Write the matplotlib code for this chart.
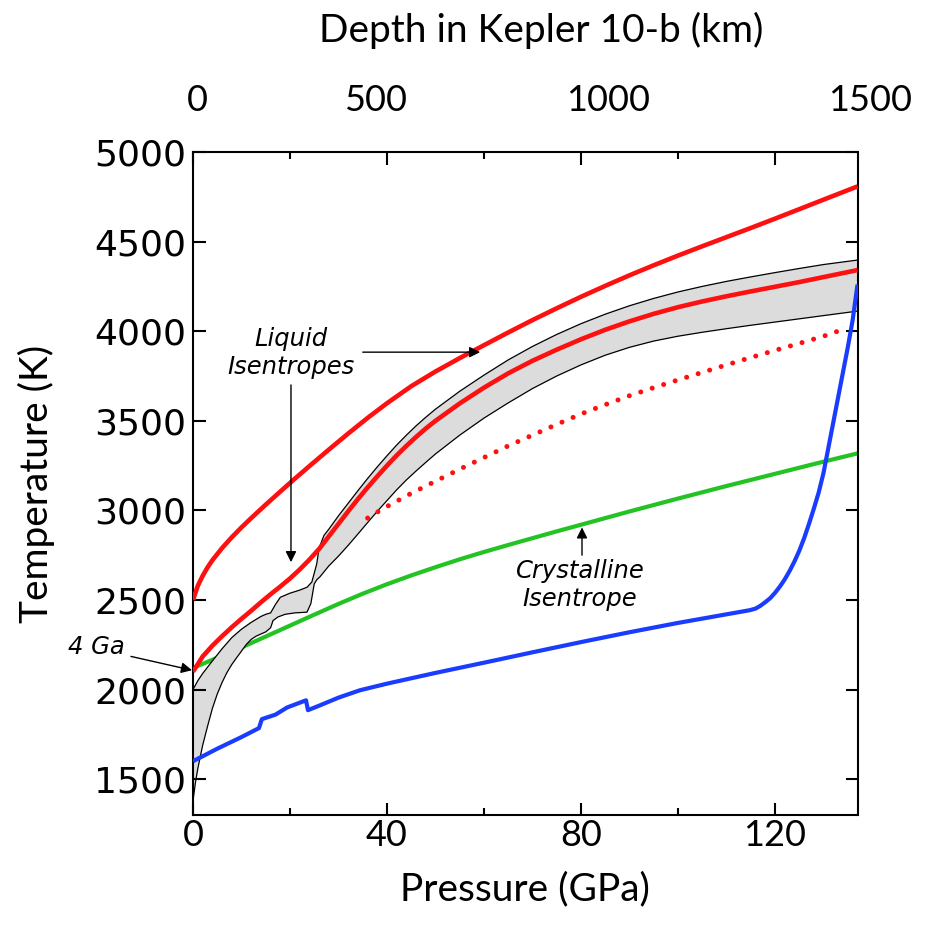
import matplotlib
matplotlib.use("Agg")
import matplotlib.pyplot as plt
from matplotlib.ticker import MultipleLocator

# Upper liquid isentrope (red)
p_liq_hot = [0, 1, 2, 3, 4, 6, 8, 10, 12, 15, 18, 21, 24, 28, 32, 36, 40, 45, 50, 55, 60, 65,
             70, 75, 80, 85, 90, 95, 100, 105, 110, 115, 120, 125, 130, 137]
t_liq_hot = [2500, 2580, 2635, 2682, 2722, 2790, 2850, 2905, 2957, 3032, 3105, 3177, 3247, 3339,
             3429, 3516, 3598, 3693, 3775, 3850, 3922, 3993, 4062, 4128, 4192, 4253, 4312, 4368,
             4422, 4474, 4525, 4576, 4628, 4681, 4734, 4808]

# Lower liquid isentrope (red, inside the grey band)
p_liq_4ga = [0, 2, 4, 6, 8, 10, 12, 14, 16, 18, 20, 22, 24, 26, 28, 30, 32, 34, 36, 38, 40, 42,
             44, 46, 48, 50, 55, 60, 65, 70, 75, 80, 85, 90, 95, 100, 105, 110, 115, 120, 125,
             130, 137]
t_liq_4ga = [2100, 2185, 2245, 2298, 2348, 2395, 2440, 2487, 2532, 2575, 2620, 2670, 2725, 2785,
             2855, 2925, 2995, 3063, 3128, 3190, 3250, 3307, 3360, 3410, 3457, 3500, 3597, 3685,
             3765, 3835, 3897, 3955, 4008, 4055, 4097, 4134, 4166, 4195, 4222, 4248, 4274, 4302,
             4341]

# Grey band: upper bound
p_band_hi = [0, 1, 2, 4, 6, 8, 10, 12, 14, 15, 16, 17, 18, 20, 22, 23.5, 24.5, 25.5, 26, 27, 28,
             30, 32, 34, 36, 38, 40, 42, 44, 46, 48, 50, 55, 60, 65, 70, 75, 80, 85, 90, 95, 100,
             105, 110, 115, 120, 125, 130, 137]
t_band_hi = [2000, 2050, 2090, 2160, 2228, 2290, 2337, 2375, 2408, 2420, 2428, 2475, 2515, 2538,
             2555, 2571, 2600, 2700, 2790, 2860, 2895, 2970, 3040, 3110, 3178, 3243, 3305, 3365,
             3420, 3472, 3520, 3565, 3665, 3755, 3840, 3915, 3982, 4042, 4095, 4142, 4183, 4219,
             4250, 4278, 4303, 4327, 4350, 4372, 4397]

# Grey band: lower bound
p_band_lo = [0, 0.5, 1, 1.5, 2, 3, 4, 5, 6, 7, 8, 9, 10, 11, 12, 13, 14, 15, 16, 16.5, 17.5, 19,
             21, 23.5, 24.3, 25, 25.5, 26.2, 28, 30, 32, 34, 36, 38, 40, 42, 44, 46, 48, 50, 55,
             60, 65, 70, 75, 80, 85, 90, 95, 100, 105, 110, 115, 120, 125, 130, 137]
t_band_lo = [1380, 1480, 1560, 1625, 1690, 1795, 1895, 1975, 2040, 2095, 2140, 2178, 2215, 2252,
             2280, 2298, 2310, 2322, 2345, 2385, 2405, 2420, 2428, 2432, 2480, 2590, 2612, 2630,
             2690, 2745, 2805, 2868, 2932, 2995, 3055, 3115, 3170, 3220, 3268, 3315, 3420, 3515,
             3600, 3680, 3750, 3812, 3866, 3910, 3945, 3972, 3994, 4014, 4033, 4051, 4069, 4087,
             4112]

# Dotted red isentrope
p_dotted = [36, 38, 40, 45, 50, 55, 60, 65, 70, 75, 80, 85, 90, 95, 100, 105, 110, 115, 120, 125,
            130, 134]
t_dotted = [2957, 2990, 3022, 3095, 3163, 3230, 3295, 3360, 3420, 3480, 3538, 3590, 3640, 3685,
            3728, 3770, 3812, 3853, 3893, 3932, 3972, 4010]

# Crystalline isentrope (green)
p_cryst = [0, 5, 10, 15, 20, 25, 30, 35, 40, 45, 50, 55, 60, 65, 70, 75, 80, 85, 90, 95, 100, 105,
           110, 115, 120, 125, 130, 137]
t_cryst = [2120, 2178, 2235, 2296, 2357, 2418, 2478, 2535, 2588, 2637, 2683, 2727, 2768, 2807,
           2845, 2883, 2920, 2957, 2994, 3030, 3066, 3101, 3136, 3170, 3204, 3238, 3272, 3318]

# Solidus (blue)
p_solid = [0, 5, 10, 13.6, 14.2, 17, 19.4, 23.3, 23.7, 26, 30, 34.4, 40, 50, 60, 70, 80, 90, 100,
           110, 114.8, 116, 117, 118, 119, 120, 121, 122, 123, 124, 125, 126, 127, 128, 129, 130,
           131, 132, 133, 134, 135, 136, 137]
t_solid = [1600, 1670, 1735, 1785, 1835, 1860, 1900, 1940, 1885, 1910, 1955, 1996, 2033, 2093,
           2150, 2208, 2265, 2320, 2372, 2420, 2443, 2452, 2468, 2488, 2510, 2540, 2575, 2615,
           2662, 2715, 2775, 2845, 2925, 3010, 3100, 3210, 3350, 3490, 3630, 3770, 3910, 4062,
           4260]

# Depth scale (km) and the pressure where each depth label sits
depth_km = [0, 500, 1000, 1500]
depth_p = [0.8, 37.7, 85.5, 139.5]

W, H = 927, 932
fig = plt.figure(figsize=(W / 100, H / 100), dpi=100)
ax = fig.add_axes([193 / W, 1 - 815 / H, (857.5 - 193) / W, (815 - 152) / H])

ax.fill(p_band_hi + p_band_lo[::-1], t_band_hi + t_band_lo[::-1],
        facecolor="#dcdcdc", edgecolor="none", zorder=1)
ax.plot(p_cryst, t_cryst, color="#22c322", lw=3.0, zorder=0.9, solid_capstyle="butt")
ax.plot(p_band_hi, t_band_hi, color="black", lw=0.9, zorder=2)
ax.plot(p_band_lo, t_band_lo, color="black", lw=0.9, zorder=2)
ax.plot(p_liq_hot, t_liq_hot, color="#ff1010", lw=3.3, zorder=3, solid_capstyle="butt")
ax.plot(p_liq_4ga, t_liq_4ga, color="#ff1010", lw=3.3, zorder=3, solid_capstyle="butt")
ax.plot(p_dotted, t_dotted, color="#ff1010", lw=3.6, zorder=3,
        linestyle=(0, (0.01, 2.4)), dash_capstyle="round")
ax.plot(p_solid, t_solid, color="#1a3cff", lw=3.0, zorder=3, solid_capstyle="butt")

ax.set_xlim(0, 137)
ax.set_ylim(1300, 5000)

ax.xaxis.set_major_locator(MultipleLocator(40))
ax.xaxis.set_minor_locator(MultipleLocator(20))
ax.yaxis.set_major_locator(MultipleLocator(500))
ax.tick_params(which="both", direction="in", top=True, right=True, width=1.5)
ax.tick_params(which="major", length=9)
ax.tick_params(which="minor", length=5)
ax.tick_params(axis="x", labelsize=26, pad=3)
ax.tick_params(axis="y", labelsize=26, pad=5)
for lab in ax.get_xticklabels():
    lab.set_fontfamily("Lato")
for lab in ax.get_yticklabels():
    lab.set_fontfamily("DejaVu Sans")
for s in ax.spines.values():
    s.set_linewidth(1.5)

ax.set_xlabel("Pressure (GPa)", fontsize=28, fontfamily="Lato", labelpad=14)
ax.set_ylabel("Temperature (K)", fontsize=28, fontfamily="Lato", labelpad=28)

for d, p in zip(depth_km, depth_p):
    ax.annotate(str(d), xy=(p, 1.0), xycoords=ax.get_xaxis_transform(),
                xytext=(0, 37), textcoords="offset points", ha="center", va="center",
                fontsize=26, fontfamily="Lato", annotation_clip=False)
fig.text(541 / W, 1 - 30 / H, "Depth in Kepler 10-b (km)", ha="center", va="center",
         fontsize=28, fontfamily="Lato")

arrow = dict(arrowstyle="-|>", color="black", lw=1.0, mutation_scale=16, shrinkA=0, shrinkB=0)
note = dict(fontsize=17.5, fontstyle="italic", fontfamily="DejaVu Sans", ha="center",
            va="center", linespacing=1.25)

ax.text(20.2, 3878, "Liquid\nIsentropes", **note)
ax.annotate("", xy=(59.2, 3883), xytext=(35.0, 3883), arrowprops=arrow)
ax.annotate("", xy=(20.2, 2711), xytext=(20.2, 3700), arrowprops=arrow)

ax.text(79.8, 2583, "Crystalline\nIsentrope", **note)
ax.annotate("", xy=(80.2, 2905), xytext=(80.2, 2750), arrowprops=arrow)

ax.annotate("", xy=(-0.2, 2108), xytext=(-12.8, 2185), arrowprops=arrow,
            annotation_clip=False)
ax.text(-20.0, 2235, "4 Ga", clip_on=False, **note)

fig.savefig("out.png", dpi=100)
